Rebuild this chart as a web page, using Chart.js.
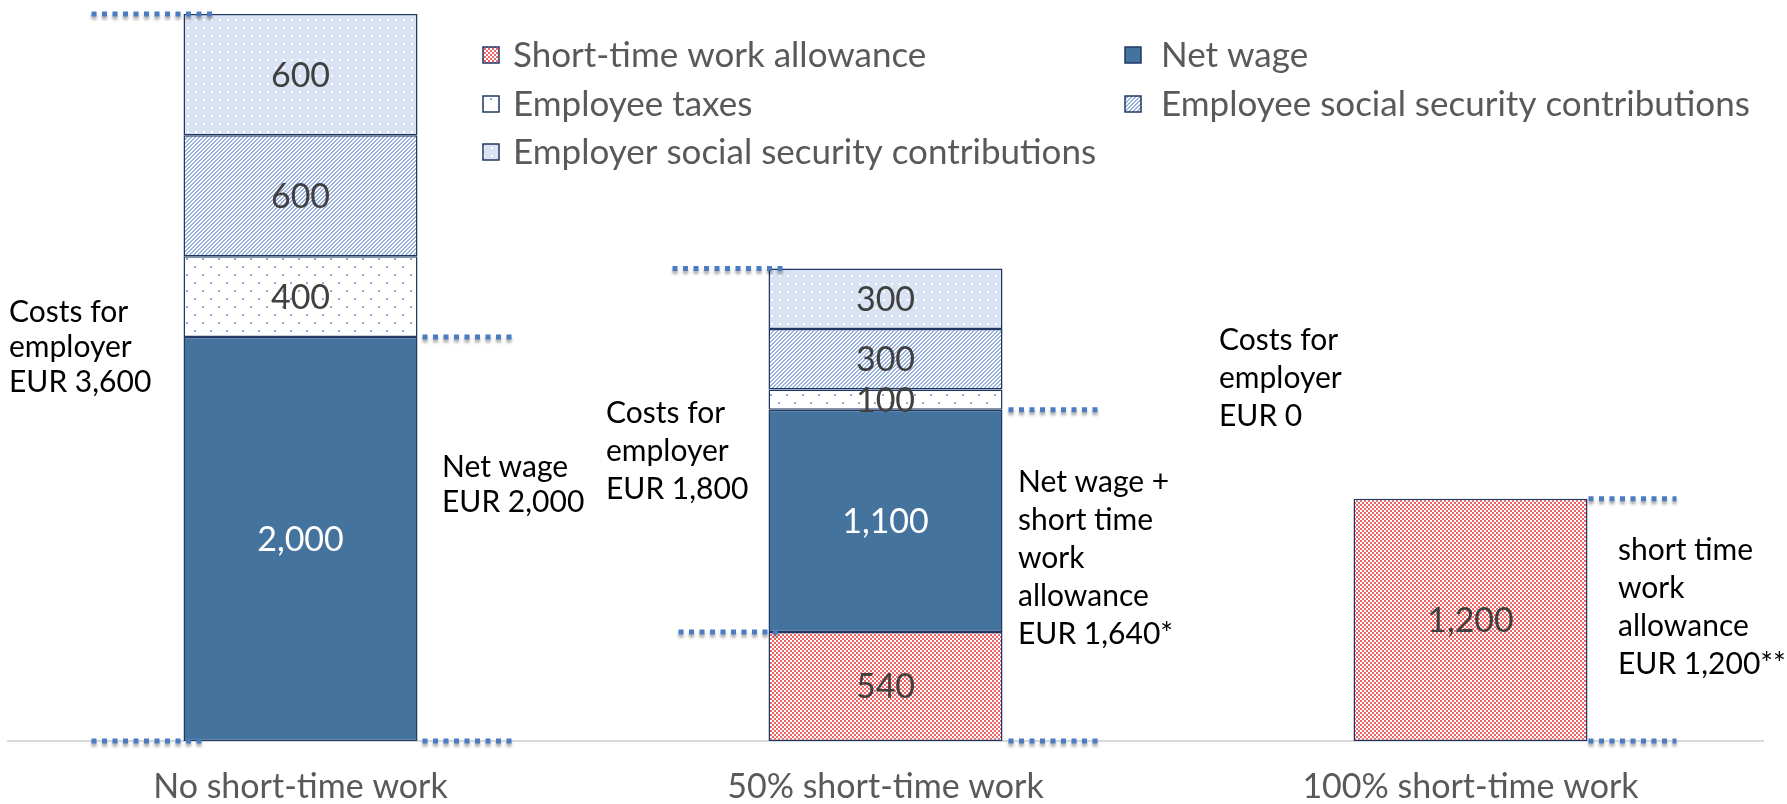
<!DOCTYPE html>
<html>
<head>
<meta charset="utf-8">
<script src="https://cdn.jsdelivr.net/npm/chart.js@4/dist/chart.umd.min.js"></script>
<style>
  html, body { margin: 0; padding: 0; background: #fff; }
</style>
</head>
<body>
<canvas id="costChart" width="1787" height="804"></canvas>
<script>
const categories = ["No short-time work", "50% short-time work", "100% short-time work"];
const seriesNames = [
  "Short-time work allowance",
  "Net wage",
  "Employee taxes",
  "Employee social security contributions",
  "Employer social security contributions"
];
// stacked bottom to top
const allowance = [null, 540, 1200];
const netWage = [2000, 1100, null];
const employeeTaxes = [400, 100, null];
const employeeSSC = [600, 300, null];
const employerSSC = [600, 300, null];
const series = [allowance, netWage, employeeTaxes, employeeSSC, employerSSC];

// text boxes next to the bars
const notes = [
  { x: 9, y: 312, gap: 35, lines: ["Costs for", "employer", "EUR 3,600"] },
  { x: 442, y: 467, gap: 35, lines: ["Net wage", "EUR 2,000"] },
  { x: 606, y: 413, gap: 38, lines: ["Costs for", "employer", "EUR 1,800"] },
  { x: 1018, y: 482, gap: 38, lines: ["Net wage +", "short time", "work", "allowance", "EUR 1,640*"] },
  { x: 1219, y: 340, gap: 38, lines: ["Costs for", "employer", "EUR 0"] },
  { x: 1618, y: 550, gap: 38, lines: ["short time", "work", "allowance", "EUR 1,200**"] }
];

// dotted guides: [bar, stack level (number of segments below), side, from, to]
const guides = [
  [0, 5, "left", 92, 31],
  [0, 0, "left", 92, 20],
  [0, 2, "right", 5, 94],
  [0, 0, "right", 5, 94],
  [1, 5, "left", 96, 16],
  [1, 1, "left", 90, 10],
  [1, 2, "right", 6, 95],
  [1, 0, "right", 6, 95],
  [2, 1, "right", 1, 89],
  [2, 0, "right", 1, 89]
];

const FONT = "Lato, 'Open Sans', sans-serif";

function tile(w, h, draw) {
  const c = document.createElement("canvas");
  c.width = w; c.height = h;
  const g = c.getContext("2d");
  draw(g);
  return g.createPattern(c, "repeat");
}

const redCheck = tile(4, 4, g => {
  g.fillStyle = "#fff"; g.fillRect(0, 0, 4, 4);
  g.fillStyle = "#ef6464";
  g.fillRect(0, 0, 2, 2); g.fillRect(2, 2, 2, 2);
});
const smallDots = tile(16, 16, g => {
  g.fillStyle = "#fff"; g.fillRect(0, 0, 16, 16);
  g.fillStyle = "#8eaadb";
  g.fillRect(10, 2, 2, 2); g.fillRect(2, 10, 2, 2);
});
const hatch = tile(4, 4, g => {
  g.fillStyle = "#fff"; g.fillRect(0, 0, 4, 4);
  g.fillStyle = "#9ab2e0";
  for (let y = 0; y < 4; y++) {
    g.fillRect((3 - y + 4) % 4, y, 1, 1);
    g.fillRect((4 - y + 4) % 4, y, 1, 1);
  }
});
const lightDots = tile(8, 8, g => {
  g.fillStyle = "#dae3f3"; g.fillRect(0, 0, 8, 8);
  g.fillStyle = "#fff";
  g.fillRect(3, 3, 2, 2);
});

const fills = [redCheck, "#44739e", smallDots, hatch, lightDots];
const edge = "#203864";

function stackLevel(i, n) {
  let s = 0;
  for (let k = 0; k < n; k++) s += series[k][i] || 0;
  return s;
}

function barBox(chart, i) {
  for (let d = 0; d < series.length; d++) {
    if (series[d][i] != null) {
      const el = chart.getDatasetMeta(d).data[i];
      return { left: el.x - el.width / 2, right: el.x + el.width / 2 };
    }
  }
}

const extras = {
  id: "extras",
  afterDatasetsDraw(chart) {
    const ctx = chart.ctx;
    const yScale = chart.scales.y;

    // segment values
    ctx.save();
    ctx.font = "34px " + FONT;
    ctx.textAlign = "center";
    ctx.textBaseline = "middle";
    series.forEach((vals, d) => {
      const meta = chart.getDatasetMeta(d);
      vals.forEach((v, i) => {
        if (v == null) return;
        const el = meta.data[i];
        ctx.fillStyle = d === 1 ? "#ffffff" : "#404040";
        ctx.fillText(v.toLocaleString("en-US"), el.x, (el.y + el.base) / 2 + 1);
      });
    });
    ctx.restore();

    // dotted guides
    ctx.save();
    ctx.strokeStyle = "#4a7cc4";
    ctx.lineWidth = 5;
    ctx.setLineDash([5, 5.5]);
    ctx.shadowColor = "rgba(0,0,0,0.35)";
    ctx.shadowBlur = 3;
    ctx.shadowOffsetY = 3;
    guides.forEach(([i, lvl, side, a, b]) => {
      const box = barBox(chart, i);
      const y = yScale.getPixelForValue(stackLevel(i, lvl));
      let x0, x1;
      if (side === "left") { x0 = box.left - a; x1 = box.left + b; }
      else { x0 = box.right + a; x1 = box.right + b; }
      ctx.beginPath();
      ctx.moveTo(x0, y);
      ctx.lineTo(x1, y);
      ctx.stroke();
    });
    ctx.restore();
  },
  afterDraw(chart) {
    const ctx = chart.ctx;
    // legend, two columns
    ctx.save();
    const cols = [483, 1125];
    const rows = [55, 104, 152];
    ctx.font = "35px " + FONT;
    ctx.textBaseline = "middle";
    seriesNames.forEach((name, k) => {
      const x = cols[k % 2], y = rows[Math.floor(k / 2)];
      ctx.fillStyle = fills[k];
      ctx.fillRect(x, y - 8, 16, 16);
      ctx.strokeStyle = edge;
      ctx.lineWidth = 1.5;
      ctx.strokeRect(x, y - 8, 16, 16);
      ctx.fillStyle = "#595959";
      ctx.fillText(name, x + (k % 2 ? 36 : 30), y + 1);
    });

    // text boxes
    ctx.font = "30px " + FONT;
    ctx.fillStyle = "#000";
    notes.forEach(n => {
      n.lines.forEach((t, j) => ctx.fillText(t, n.x, n.y + j * n.gap));
    });
    ctx.restore();
  }
};

new Chart(document.getElementById("costChart"), {
  type: "bar",
  data: {
    labels: categories,
    datasets: series.map((vals, d) => ({
      label: seriesNames[d],
      data: vals,
      backgroundColor: fills[d],
      borderColor: edge,
      borderWidth: 1.5,
      borderSkipped: false,
      categoryPercentage: 0.4,
      barPercentage: 1
    }))
  },
  options: {
    responsive: false,
    animation: false,
    layout: { padding: { top: 14, left: 8, right: 24, bottom: 0 } },
    plugins: {
      legend: { display: false },
      tooltip: { enabled: false }
    },
    scales: {
      x: {
        stacked: true,
        grid: { display: false },
        border: { display: true, color: "#d9d9d9", width: 2 },
        ticks: { color: "#595959", font: { family: FONT, size: 34 }, padding: 18, maxRotation: 0 },
        afterFit(scale) { scale.height = 63; }
      },
      y: {
        stacked: true,
        display: false,
        min: 0,
        max: 3600
      }
    }
  },
  plugins: [extras]
});
</script>
</body>
</html>
